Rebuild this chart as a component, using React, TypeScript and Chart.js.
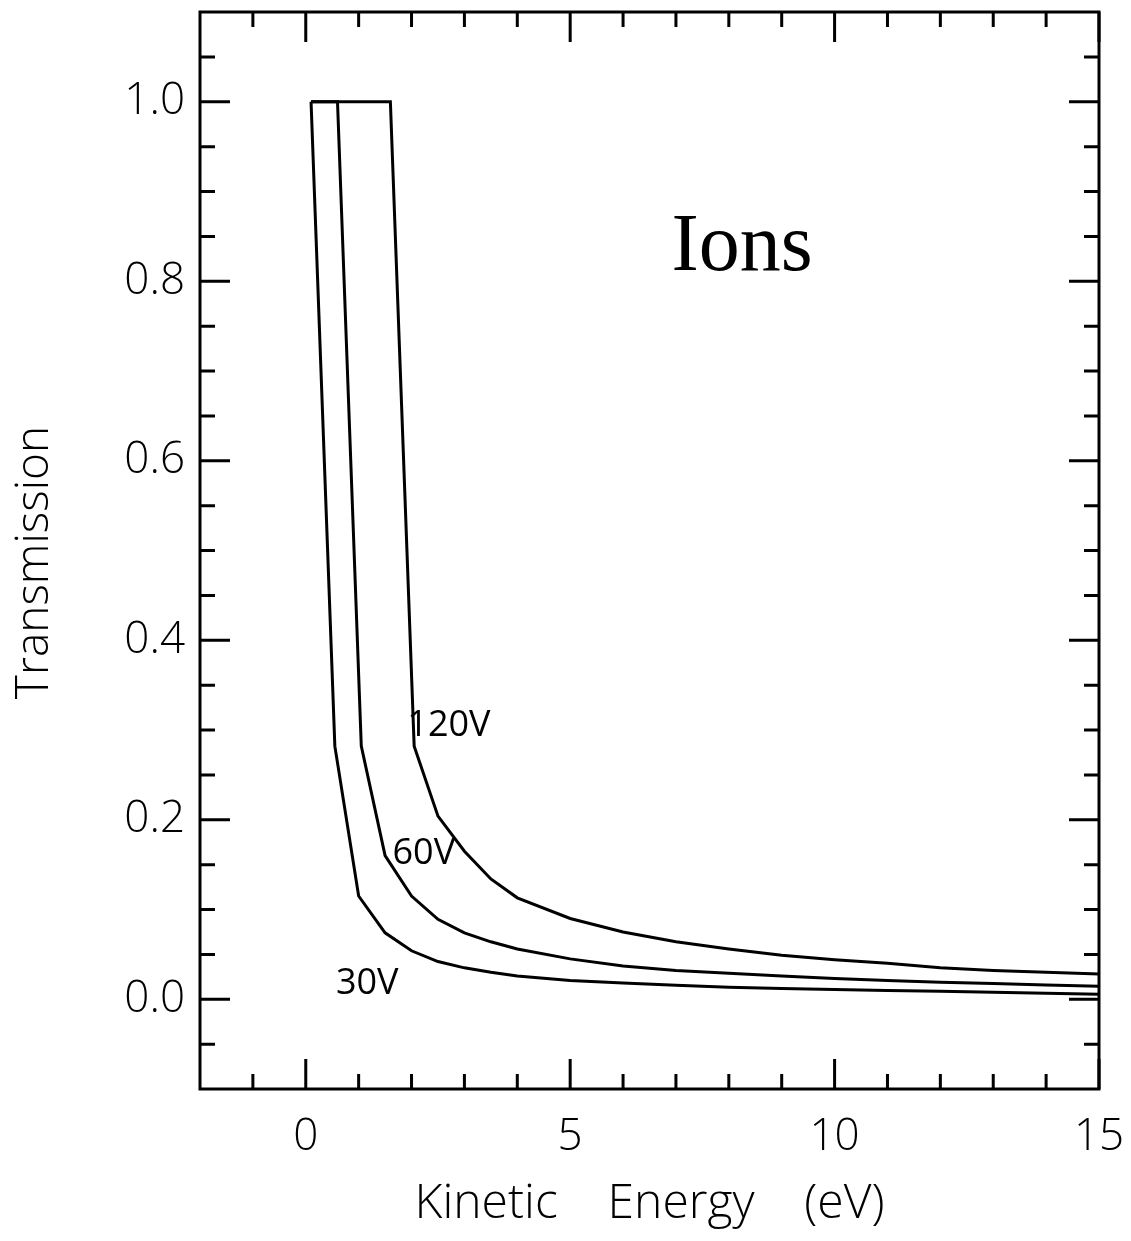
import React, { useEffect, useRef } from "react";
import { Chart, registerables } from "chart.js";

Chart.register(...registerables);

// ---- data ----
const E_30 = [0.1, 0.55, 1.0, 1.5, 2.0, 2.5, 3.0, 3.5, 4, 5, 6, 7, 8, 9, 10, 11, 12, 13, 14, 15];
const T_30 = [1.0, 0.282, 0.115, 0.074, 0.054, 0.042, 0.035, 0.03, 0.026, 0.021, 0.018, 0.0155, 0.0135, 0.012, 0.011, 0.0098, 0.0088, 0.0078, 0.0067, 0.0056];

const E_60 = [0.1, 0.6, 1.05, 1.5, 2.0, 2.5, 3.0, 3.5, 4, 5, 6, 7, 8, 9, 10, 11, 12, 13, 14, 15];
const T_60 = [1.0, 1.0, 0.282, 0.16, 0.115, 0.089, 0.074, 0.064, 0.056, 0.045, 0.037, 0.032, 0.029, 0.026, 0.023, 0.021, 0.019, 0.0175, 0.016, 0.0145];

const E_120 = [0.1, 1.6, 2.05, 2.5, 3.0, 3.5, 4, 5, 6, 7, 8, 9, 10, 11, 12, 13, 14, 15];
const T_120 = [1.0, 1.0, 0.282, 0.204, 0.165, 0.134, 0.113, 0.09, 0.075, 0.064, 0.056, 0.049, 0.044, 0.04, 0.035, 0.032, 0.03, 0.028];

const X_LABEL_TICKS = [0, 5, 10, 15];
const X_MINOR_TICKS = [-1, 1, 2, 3, 4, 6, 7, 8, 9, 11, 12, 13, 14];
const Y_LABEL_TICKS = [0, 0.2, 0.4, 0.6, 0.8, 1.0];
const Y_MINOR_TICKS = [-0.05, 0.05, 0.1, 0.15, 0.25, 0.3, 0.35, 0.45, 0.5, 0.55, 0.65, 0.7, 0.75, 0.85, 0.9, 0.95, 1.05];

const X_TITLE = "Kinetic    Energy    (eV)";
const Y_TITLE = "Transmission  ";

const CURVE_LABELS = [
  { text: "120V", x: 1.92, y: 0.305 },
  { text: "60V", x: 1.64, y: 0.162 },
  { text: "30V", x: 0.57, y: 0.017 },
];
const PANEL_LABEL = { text: "Ions", x: 8.25, y: 0.837 };

const SANS = "'Open Sans', 'DejaVu Sans', sans-serif";

const toPoints = (xs: number[], ys: number[]) => xs.map((x, i) => ({ x, y: ys[i] }));

const framePlugin = {
  id: "frameTicks",
  afterDatasetsDraw(chart: any) {
    const { ctx, chartArea } = chart;
    const { left, right, top, bottom } = chartArea;
    const xs = chart.scales.x;
    const ys = chart.scales.y;
    ctx.save();
    ctx.strokeStyle = "#000";
    ctx.lineWidth = 3;
    ctx.lineCap = "butt";
    ctx.strokeRect(left, top, right - left, bottom - top);
    const MAJOR = 30;
    const MINOR = 15;
    const xTick = (v: number, len: number) => {
      const px = xs.getPixelForValue(v);
      ctx.beginPath();
      ctx.moveTo(px, bottom);
      ctx.lineTo(px, bottom - len);
      ctx.moveTo(px, top);
      ctx.lineTo(px, top + len);
      ctx.stroke();
    };
    const yTick = (v: number, len: number) => {
      const py = ys.getPixelForValue(v);
      ctx.beginPath();
      ctx.moveTo(left, py);
      ctx.lineTo(left + len, py);
      ctx.moveTo(right, py);
      ctx.lineTo(right - len, py);
      ctx.stroke();
    };
    X_LABEL_TICKS.forEach((v) => xTick(v, MAJOR));
    X_MINOR_TICKS.forEach((v) => xTick(v, MINOR));
    Y_LABEL_TICKS.forEach((v) => yTick(v, MAJOR));
    Y_MINOR_TICKS.forEach((v) => yTick(v, MINOR));

    ctx.fillStyle = "#000";
    ctx.textBaseline = "middle";
    ctx.textAlign = "left";
    ctx.font = `36px ${SANS}`;
    CURVE_LABELS.forEach((l) => {
      ctx.fillText(l.text, xs.getPixelForValue(l.x), ys.getPixelForValue(l.y));
    });
    ctx.textAlign = "center";
    ctx.font = `82px 'Liberation Serif', 'DejaVu Serif', serif`;
    ctx.fillText(PANEL_LABEL.text, xs.getPixelForValue(PANEL_LABEL.x), ys.getPixelForValue(PANEL_LABEL.y));
    ctx.restore();
  },
};

export default function App() {
  const ref = useRef<HTMLCanvasElement | null>(null);
  useEffect(() => {
    if (!ref.current) return;
    const line = (data: any) => ({
      data,
      showLine: true,
      borderColor: "#000",
      borderWidth: 3,
      pointRadius: 0,
      tension: 0,
      fill: false,
    });
    const chart = new Chart(ref.current, {
      type: "scatter",
      data: {
        datasets: [
          { label: "30V", ...line(toPoints(E_30, T_30)) },
          { label: "60V", ...line(toPoints(E_60, T_60)) },
          { label: "120V", ...line(toPoints(E_120, T_120)) },
        ],
      },
      options: {
        responsive: false,
        animation: false,
        devicePixelRatio: 1,
        layout: { padding: { top: 12, right: 32, left: 0, bottom: 0 } },
        plugins: { legend: { display: false }, tooltip: { enabled: false } },
        scales: {
          x: {
            type: "linear",
            min: -2,
            max: 15,
            grid: { display: false, drawTicks: false },
            border: { display: false },
            ticks: {
              color: "#000",
              font: { family: SANS, size: 44, weight: "300" as any, lineHeight: 1 },
              padding: 26,
              maxRotation: 0,
              callback: (v: any) => String(v),
            },
            afterBuildTicks: (s: any) => {
              s.ticks = X_LABEL_TICKS.map((value) => ({ value }));
            },
            afterFit: (s: any) => {
              s.height = 152;
              s.paddingLeft = 0;
              s.paddingRight = 0;
              s.paddingTop = 0;
              s.paddingBottom = 0;
            },
            title: {
              display: true,
              text: X_TITLE,
              color: "#000",
              font: { family: SANS, size: 48, weight: "300" as any, lineHeight: 1 },
              padding: { top: 0, bottom: 13 },
            },
          },
          y: {
            type: "linear",
            min: -0.1,
            max: 1.1,
            grid: { display: false, drawTicks: false },
            border: { display: false },
            ticks: {
              color: "#000",
              font: { family: SANS, size: 44, weight: "300" as any, lineHeight: 1 },
              padding: 15,
              callback: (v: any) => Number(v).toFixed(1),
            },
            afterBuildTicks: (s: any) => {
              s.ticks = Y_LABEL_TICKS.map((value) => ({ value }));
            },
            afterFit: (s: any) => {
              s.width = 200;
              s.paddingLeft = 0;
              s.paddingRight = 0;
              s.paddingTop = 0;
              s.paddingBottom = 0;
            },
            title: {
              display: true,
              text: Y_TITLE,
              color: "#000",
              font: { family: SANS, size: 46, weight: "300" as any, lineHeight: 1 },
              padding: { top: 12, bottom: 0 },
            },
          },
        },
      },
      plugins: [framePlugin],
    });
    return () => chart.destroy();
  }, []);
  return (
    <div style={{ position: "absolute", left: 0, top: 0, width: 1131, height: 1241, background: "#fff" }}>
      <canvas ref={ref} width={1131} height={1241} style={{ display: "block" }} />
    </div>
  );
}
